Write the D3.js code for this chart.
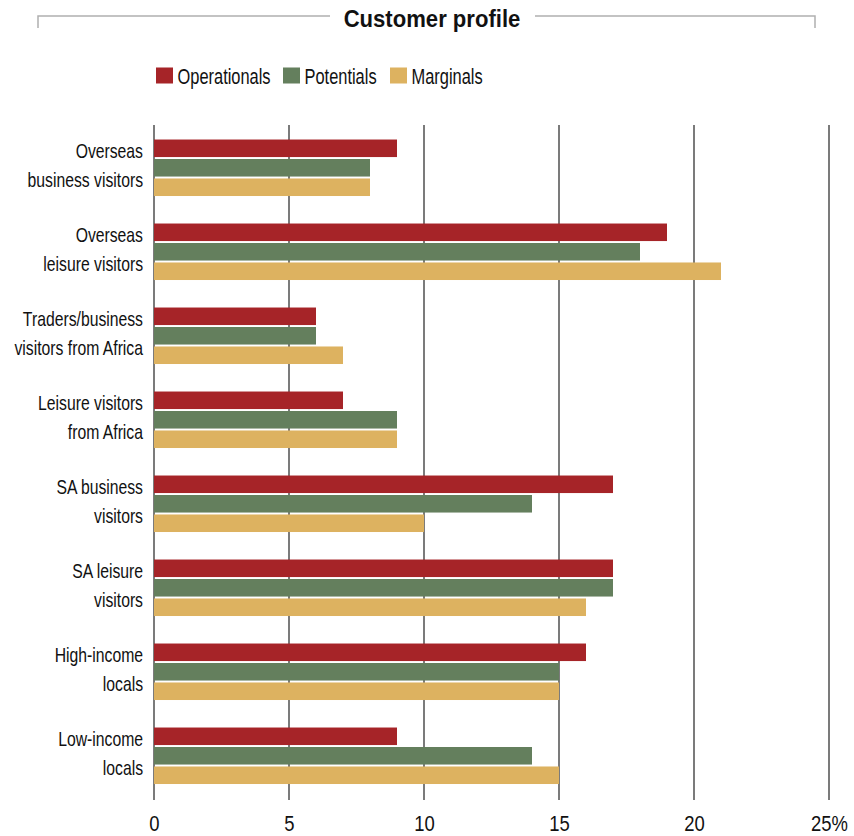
<!DOCTYPE html>
<html>
<head>
<meta charset="utf-8">
<script src="https://cdn.jsdelivr.net/npm/d3@7"></script>
<style>
  html, body { margin: 0; padding: 0; background: #fff; }
  svg text { font-family: "Liberation Sans", Arial, sans-serif; fill: #111; }
</style>
</head>
<body>
<svg id="chart" width="854" height="836"></svg>
<script>
// Customer segments (two-line labels)
const categories = [
  ["Overseas", "business visitors"],
  ["Overseas", "leisure visitors"],
  ["Traders/business", "visitors from Africa"],
  ["Leisure visitors", "from Africa"],
  ["SA business", "visitors"],
  ["SA leisure", "visitors"],
  ["High-income", "locals"],
  ["Low-income", "locals"]
];
const seriesNames = ["Operationals", "Potentials", "Marginals"];
const operationals = [9, 19, 6, 7, 17, 17, 16, 9];
const potentials   = [8, 18, 6, 9, 14, 17, 15, 14];
const marginals    = [8, 21, 7, 9, 10, 16, 15, 15];
const tickValues = [0, 5, 10, 15, 20, 25];
const tickLabels = ["0", "5", "10", "15", "20", "25%"];
const colors = ["#a62428", "#647f5d", "#ddb260"];

const seriesValues = [operationals, potentials, marginals];
const catKeys = categories.map(c => c.join(" "));
const rows = catKeys.map((k, i) => ({
  key: k,
  label: categories[i],
  values: seriesNames.map((s, j) => ({ series: s, value: seriesValues[j][i] }))
}));

const svg = d3.select("#chart");

// Condensed-looking text: horizontally squeezed around its anchor point
function label(parent, txt, x, y, size, sx, anchor, weight) {
  return parent.append("text")
    .attr("transform", `translate(${x},${y}) scale(${sx},1)`)
    .attr("text-anchor", anchor || "start")
    .attr("font-size", size)
    .attr("font-weight", weight || "normal")
    .text(txt);
}

const x = d3.scaleLinear().domain([0, 25]).range([154, 829]);
const y0 = d3.scaleBand().domain(catKeys).range([126.5, 798.5]).paddingInner(0.31).paddingOuter(0.155);
const y1 = d3.scaleBand().domain(seriesNames).range([0, 56.5]).paddingInner(0.1);
const color = d3.scaleOrdinal().domain(seriesNames).range(colors);

// Title with bracket rule
const titleY = 16;
svg.append("path")
  .attr("d", `M38,28 V${titleY} H330 M535,${titleY} H815 V28`)
  .attr("fill", "none").attr("stroke", "#b0b0b0").attr("stroke-width", 1.5);
label(svg, "Customer profile", 432, 26.5, 23.5, 0.94, "middle", "bold");

// Legend
const legendPos = [156, 283, 390];
seriesNames.forEach((s, i) => {
  const g = svg.append("g").attr("transform", `translate(${legendPos[i]},67.5)`);
  g.append("rect").attr("width", 17).attr("height", 16).attr("fill", color(s));
  label(g, s, 21.5, 16, 22.5, 0.73, "start");
});

// Vertical grid lines
svg.append("g")
  .selectAll("line")
  .data(tickValues)
  .join("line")
  .attr("x1", d => x(d)).attr("x2", d => x(d))
  .attr("y1", 125).attr("y2", 800)
  .attr("stroke", "#5a5a5a").attr("stroke-width", 1.6);

// Bars
const groups = svg.append("g")
  .selectAll("g")
  .data(rows)
  .join("g")
  .attr("transform", d => `translate(0,${y0(d.key)})`);

groups.selectAll("rect")
  .data(d => d.values)
  .join("rect")
  .attr("x", x(0))
  .attr("y", d => y1(d.series))
  .attr("width", d => x(d.value) - x(0))
  .attr("height", y1.bandwidth())
  .attr("fill", d => color(d.series));

// Category labels
groups.each(function(d) {
  const g = d3.select(this);
  label(g, d.label[0], 143, 18.5, 21, 0.75, "end");
  label(g, d.label[1], 143, 47.5, 21, 0.75, "end");
});

// Bottom axis labels
const axis = d3.axisBottom(x)
  .tickValues(tickValues)
  .tickFormat((d, i) => tickLabels[i])
  .tickSize(0).tickPadding(0);
const ax = svg.append("g").attr("transform", "translate(0,830.5)").call(axis);
ax.select(".domain").remove();
ax.selectAll("text")
  .attr("y", 0).attr("dy", 0)
  .attr("font-size", 22)
  .attr("transform", "scale(0.84,1)")
  .style("font-family", '"Liberation Sans", Arial, sans-serif')
  .attr("fill", "#111");
</script>
</body>
</html>
